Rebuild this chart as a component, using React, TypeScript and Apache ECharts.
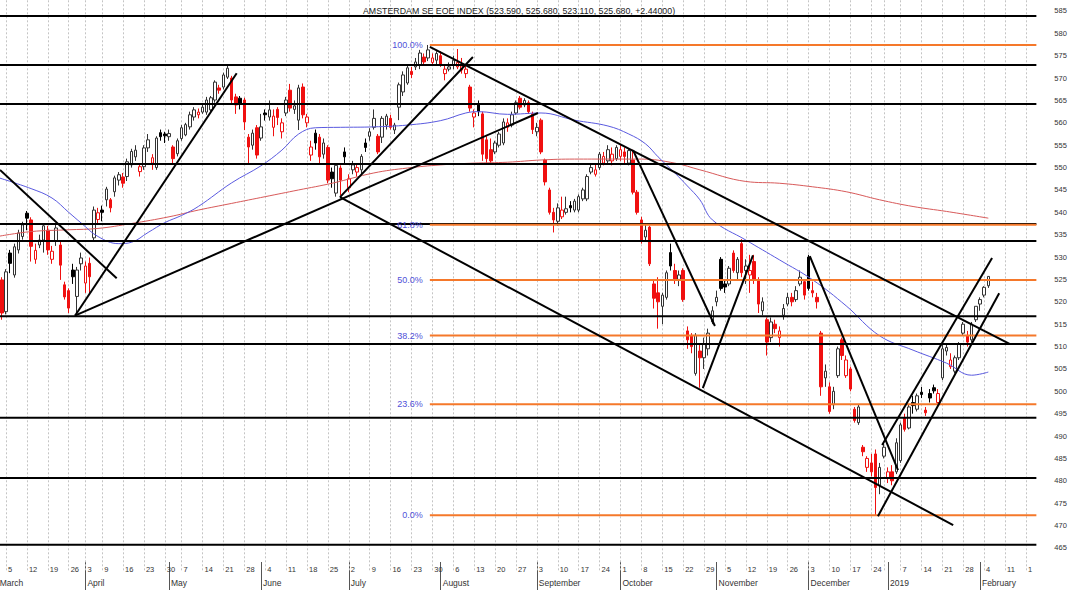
import React, { useEffect, useRef } from "react";
import * as echarts from "echarts";

const TITLE = "AMSTERDAM SE EOE INDEX (523.590, 525.680, 523.110, 525.680, +2.44000)";

// trading calendar (Euronext holidays excluded)
const CAL_FIRST = "2018-02-28";
const CAL_LAST = "2019-02-20";
const HOLIDAYS = ["2018-03-30", "2018-04-02", "2018-05-01", "2018-12-25", "2018-12-26", "2019-01-01"];
const DATA_FIRST = "2018-03-02";
const HIDDEN_WEEK_LABELS = ["2018-12-31"];
const MONTH_LABELS = ["", "February", "March", "April", "May", "June", "July", "August", "September", "October", "November", "December"];

const opens = [
  524.9, 517.8, 530.9, 526.0, 531.6, 534.6, 539.8, 538.3, 529.5, 532.7,
  533.8, 536.0, 529.5, 533.5, 532.7, 523.8, 522.5, 527.1, 521.2, 528.5,
  524.2, 528.6, 534.3, 538.4, 540.5, 542.8, 542.8, 544.6, 547.2, 547.9,
  548.0, 550.6, 552.4, 549.1, 550.2, 554.4, 551.0, 550.0, 557.8, 557.5,
  556.9, 554.6, 553.1, 556.5, 557.3, 559.1, 561.3, 561.8, 562.4, 562.4,
  562.9, 565.1, 567.8, 568.0, 570.2, 570.0, 565.8, 565.5, 565.1, 556.8,
  555.0, 558.9, 556.6, 562.2, 561.3, 559.0, 563.0, 558.0, 562.2, 567.3,
  563.0, 560.6, 568.0, 560.0, 552.8, 557.7, 556.8, 553.0, 554.5, 549.0,
  544.3, 549.9, 553.5, 545.5, 549.5, 549.0, 549.5, 555.5, 557.0, 559.0,
  557.0, 556.8, 559.5, 561.0, 558.4, 563.5, 566.9, 568.9, 571.5, 572.5,
  572.9, 574.7, 574.5, 573.5, 574.0, 575.0, 571.0, 572.0, 573.0, 572.5,
  571.8, 571.0, 568.0, 561.3, 564.0, 562.0, 556.2, 554.0, 553.5, 555.0,
  555.5, 559.0, 559.5, 562.2, 565.5, 564.0, 564.5, 562.0, 558.0, 560.6,
  551.7, 545.0, 540.0, 538.0, 539.0, 540.0, 541.5, 540.5, 540.5, 543.0,
  543.0, 549.0, 548.5, 550.0, 551.0, 551.5, 551.5, 552.0, 552.5, 553.5,
  551.0, 551.7, 544.5, 538.3, 534.5, 536.7, 524.0, 522.0, 519.0, 521.0,
  531.0, 527.0, 525.0, 527.0, 513.5, 512.5, 504.0, 509.0, 507.5, 509.5,
  515.5, 520.0, 529.5, 524.0, 524.0, 530.9, 526.5, 533.0, 527.0, 526.0,
  529.0, 524.9, 518.0, 516.0, 512.0, 515.0, 512.0, 517.0, 519.5, 521.0,
  520.5, 524.0, 524.5, 530.0, 522.5, 521.0, 513.0, 503.0, 501.0, 497.0,
  503.5, 511.5, 503.5, 505.0, 496.0, 493.0, 487.5, 483.0, 484.0, 486.0,
  479.0, 485.5, 480.5, 482.0, 482.0, 484.5, 494.0, 491.8, 497.5, 496.0,
  499.8, 495.8, 499.5, 500.8, 497.5, 503.0, 509.0, 505.5, 504.5, 507.5,
  513.0, 512.5, 511.5, 516.0, 519.5, 521.5, 523.59,
];
const highs = [
  525.5, 527.3, 531.6, 533.0, 536.1, 537.9, 540.3, 538.9, 533.0, 535.0,
  537.5, 537.0, 532.5, 537.5, 533.5, 524.5, 523.0, 528.5, 527.8, 531.0,
  529.0, 529.9, 541.3, 541.0, 541.5, 545.7, 543.2, 548.2, 549.0, 548.8,
  552.0, 554.2, 555.0, 551.0, 555.0, 557.5, 553.0, 557.0, 558.5, 558.0,
  558.5, 555.0, 556.5, 559.5, 560.0, 562.5, 563.5, 563.2, 564.2, 565.8,
  566.0, 569.5, 568.5, 571.2, 572.8, 570.5, 566.5, 566.0, 565.6, 557.5,
  558.5, 559.5, 562.0, 563.0, 565.0, 563.0, 563.5, 561.0, 565.8, 568.7,
  565.0, 568.5, 568.8, 562.0, 556.0, 558.5, 557.5, 556.5, 555.0, 550.0,
  551.0, 550.5, 554.5, 548.5, 551.5, 551.0, 553.0, 556.5, 558.8, 563.0,
  557.5, 561.5, 562.0, 561.8, 560.0, 569.0, 571.5, 573.0, 572.5, 574.5,
  576.3, 575.5, 577.4, 575.5, 576.0, 576.0, 573.0, 573.5, 575.0, 576.5,
  574.5, 573.0, 568.5, 563.0, 565.0, 562.5, 557.0, 556.5, 556.0, 558.0,
  561.0, 561.0, 562.5, 565.0, 566.0, 565.5, 565.0, 562.5, 560.0, 561.0,
  552.0, 545.5, 541.0, 542.0, 543.5, 543.5, 542.5, 543.0, 544.0, 545.5,
  548.5, 551.0, 551.0, 553.5, 553.5, 555.0, 554.5, 555.0, 555.0, 554.5,
  554.2, 554.0, 545.0, 539.0, 537.5, 537.0, 525.0, 525.5, 522.0, 527.0,
  533.0, 528.5, 527.0, 527.5, 514.5, 513.0, 513.0, 510.5, 512.0, 514.0,
  519.0, 522.5, 530.0, 525.0, 528.0, 531.5, 530.0, 534.0, 529.5, 530.5,
  530.5, 525.5, 521.0, 516.5, 516.5, 516.0, 514.5, 519.5, 522.0, 522.0,
  523.5, 527.0, 525.0, 530.5, 524.5, 522.0, 513.5, 506.0, 502.0, 501.0,
  510.0, 512.0, 508.0, 505.5, 496.5, 497.0, 488.0, 485.5, 486.0, 487.0,
  484.0, 488.5, 483.0, 483.5, 489.5, 493.0, 495.0, 497.0, 499.0, 499.5,
  501.0, 496.5, 500.5, 501.5, 500.5, 510.5, 510.5, 508.5, 508.0, 511.0,
  515.5, 513.5, 515.5, 519.0, 521.0, 523.5, 525.68,
];
const lows = [
  516.0, 517.2, 526.4, 525.4, 530.8, 533.9, 536.0, 529.0, 528.5, 532.0,
  531.0, 530.5, 528.5, 532.5, 524.9, 520.5, 517.5, 524.0, 516.9, 527.0,
  522.0, 521.6, 533.8, 537.5, 538.0, 541.3, 540.0, 543.5, 546.0, 545.5,
  547.0, 550.0, 551.5, 548.0, 549.5, 553.5, 549.5, 549.5, 556.0, 555.5,
  556.0, 551.0, 552.5, 556.0, 557.0, 558.5, 560.5, 561.0, 562.0, 561.8,
  562.5, 564.5, 566.5, 567.5, 569.8, 564.0, 562.0, 563.0, 558.4, 551.0,
  554.0, 552.0, 556.0, 560.5, 560.5, 557.0, 559.5, 556.5, 561.5, 562.5,
  562.0, 558.4, 561.0, 559.0, 551.5, 554.0, 551.0, 552.0, 546.5, 545.5,
  543.5, 543.8, 551.0, 544.5, 548.5, 548.0, 548.5, 553.5, 556.0, 558.5,
  553.0, 555.5, 558.5, 558.5, 557.5, 560.6, 566.0, 568.5, 570.0, 571.8,
  572.0, 572.8, 573.8, 573.0, 573.0, 572.5, 569.5, 571.5, 572.0, 572.0,
  571.0, 570.0, 562.5, 559.0, 561.5, 551.5, 550.8, 551.0, 553.0, 554.5,
  555.0, 558.0, 559.0, 561.8, 563.0, 563.5, 562.0, 557.5, 557.0, 553.0,
  546.0, 539.5, 535.5, 537.0, 538.5, 539.5, 540.0, 540.0, 540.0, 542.5,
  542.5, 548.5, 548.0, 549.5, 550.5, 551.0, 550.5, 551.5, 551.5, 551.0,
  550.5, 544.0, 539.5, 533.0, 533.5, 528.0, 518.5, 514.0, 515.0, 520.5,
  527.0, 524.0, 523.5, 520.0, 509.5, 508.5, 503.5, 500.8, 505.0, 508.0,
  515.0, 519.0, 522.5, 522.0, 523.5, 526.5, 525.0, 525.5, 524.0, 522.0,
  524.0, 517.5, 517.0, 508.0, 511.0, 513.0, 510.0, 516.0, 519.0, 519.0,
  520.0, 523.5, 520.5, 522.5, 521.0, 518.5, 499.0, 501.0, 495.0, 496.0,
  503.0, 507.0, 503.0, 500.0, 493.0, 492.5, 485.5, 482.0, 481.0, 472.3,
  477.0, 485.0, 479.5, 479.0, 481.5, 484.0, 491.0, 491.5, 495.0, 495.5,
  498.5, 494.5, 497.5, 499.5, 497.0, 502.5, 508.0, 505.0, 504.0, 507.0,
  512.5, 510.0, 511.0, 515.5, 518.0, 521.0, 523.11,
];
const closes = [
  517.5, 526.7, 528.6, 532.3, 535.4, 537.2, 538.7, 532.4, 531.5, 533.8,
  537.0, 531.6, 531.3, 536.5, 528.2, 521.1, 518.6, 525.6, 527.1, 529.8,
  528.0, 525.6, 540.5, 539.9, 540.0, 545.2, 541.0, 547.7, 548.4, 546.5,
  551.3, 553.6, 553.9, 550.2, 554.4, 556.2, 552.2, 556.6, 556.9, 557.1,
  557.6, 552.0, 556.0, 558.9, 559.6, 561.8, 562.9, 562.4, 563.5, 565.1,
  565.6, 569.1, 567.3, 570.7, 572.2, 565.1, 564.0, 564.4, 560.2, 554.6,
  557.7, 552.8, 559.1, 561.8, 562.9, 561.5, 561.2, 560.0, 565.1, 563.3,
  563.8, 567.8, 561.8, 561.3, 554.6, 555.5, 552.4, 555.5, 547.2, 547.5,
  550.5, 547.2, 552.4, 547.5, 550.6, 550.0, 552.5, 554.5, 558.0, 561.0,
  553.5, 561.0, 561.5, 559.0, 559.5, 568.5, 570.7, 572.3, 570.8, 573.6,
  575.6, 573.6, 576.3, 574.5, 575.5, 573.0, 572.0, 572.5, 574.0, 573.5,
  572.7, 572.0, 563.3, 562.2, 562.5, 553.0, 552.0, 551.5, 555.5, 557.5,
  560.2, 560.0, 561.8, 564.5, 563.5, 565.0, 562.5, 558.5, 559.0, 553.5,
  546.8, 540.0, 538.3, 541.0, 540.5, 540.8, 541.0, 542.5, 543.5, 545.0,
  548.0, 550.0, 549.5, 553.0, 552.5, 554.0, 553.0, 554.5, 554.0, 552.5,
  553.8, 544.5, 540.0, 533.8, 536.0, 528.5, 520.8, 520.0, 521.5, 526.5,
  528.0, 524.9, 526.0, 520.5, 511.5, 510.0, 512.5, 507.5, 510.5, 513.0,
  518.0, 521.0, 523.0, 523.3, 527.5, 527.0, 529.5, 526.5, 528.0, 527.0,
  524.9, 519.5, 520.0, 511.0, 515.5, 514.0, 513.5, 518.5, 521.0, 520.0,
  522.5, 525.5, 521.5, 523.0, 522.0, 520.0, 501.0, 504.5, 495.5, 500.0,
  509.5, 508.0, 507.0, 500.5, 493.5, 496.5, 486.5, 485.0, 482.0, 478.5,
  483.0, 487.5, 482.0, 480.0, 488.5, 492.5, 491.5, 496.5, 496.8, 499.0,
  499.3, 495.2, 498.5, 500.1, 499.5, 509.5, 509.8, 507.0, 507.5, 510.5,
  515.0, 511.0, 515.0, 519.0, 520.5, 523.24, 525.68,
];

// horizontal support / resistance levels
const SUPPORT_LEVELS = [583.9, 572.9, 564.2, 550.8, 537.4, 533.6, 516.8, 510.6, 494.1, 480.6, 465.7];

// Fibonacci retracement (between the 2018 high and the December low)
const FIB_LOW = 472.3;
const FIB_HIGH = 577.4;
const FIB_START = 104.4; // category position of the high
const FIB_RATIOS = [0, 0.236, 0.382, 0.5, 0.618, 1];
const FIB_LABELS = ["0.0%", "23.6%", "38.2%", "50.0%", "61.8%", "100.0%"];

// trend lines: [x1, y1, x2, y2] in (category position, index value)
const TRENDLINES = [
  [1.57, 549.46, 29.48, 525.26],
  [19.5, 516.9, 58.19, 571.07],
  [19.5, 516.9, 130.27, 562.2],
  [82.9, 543.4, 114.7, 574.7],
  [82.9, 543.4, 229.6, 470.1],
  [104.4, 577.0, 243.2, 510.57],
  [153.0, 553.9, 172.6, 514.6],
  [169.7, 500.7, 181.7, 530.4],
  [195.3, 530.2, 216.4, 482.4],
  [212.6, 488.0, 238.9, 529.8],
  [211.6, 472.1, 240.6, 521.9],
];

// moving averages (category position, value)
const MA_SHORT_X = [1, 9, 14, 18, 21, 25, 30, 33, 37, 41, 45, 49, 57, 64, 69, 73, 77, 83, 91, 99, 107, 113, 116, 123, 131, 139, 147, 152, 156, 159, 163, 166, 169, 172, 180, 188, 196, 204, 212, 220, 228, 234, 238];
const MA_SHORT_Y = [547.8, 545.3, 543.2, 540.0, 537.6, 534.6, 533.0, 533.3, 535.5, 537.7, 539.3, 541.3, 546.6, 550.4, 553.9, 557.5, 558.9, 559.0, 559.1, 559.5, 560.5, 562.2, 562.5, 561.9, 562.2, 560.6, 559.3, 557.5, 555.3, 552.4, 548.8, 545.9, 542.8, 538.3, 533.8, 529.4, 524.9, 519.1, 512.4, 509.2, 506.3, 503.6, 504.3];
const MA_LONG_X = [1, 9, 18, 25, 33, 42, 49, 57, 65, 73, 81, 91, 99, 107, 115, 123, 131, 139, 147, 155, 163, 169, 180, 188, 196, 204, 212, 220, 228, 238];
const MA_LONG_Y = [534.6, 535.7, 536.1, 536.4, 537.5, 539.0, 540.5, 542.0, 543.5, 545.0, 546.5, 548.8, 549.9, 550.6, 551.0, 551.2, 551.7, 551.9, 551.9, 551.9, 551.0, 549.5, 546.9, 546.5, 545.7, 544.6, 542.8, 541.3, 540.2, 538.7];

// ---------- layout / style ----------
const W = 1073;
const H = 590;
const SLOT = 4.18;
const GRID_LEFT = -8.63;
const Y_MIN = 460;
const Y_MAX = 590;
const PX_PER_UNIT = 4.4746;
const GRID_TOP = -11.4;
const FONT = '"Liberation Sans", Arial, sans-serif';
const RED = "#f01010";
const ORANGE = "#f5782a";
const FIB_TEXT = "#5050d8";

function tradingDays(): string[] {
  const out: string[] = [];
  const d = new Date(CAL_FIRST + "T00:00:00Z");
  const end = new Date(CAL_LAST + "T00:00:00Z").getTime();
  while (d.getTime() <= end) {
    const wd = d.getUTCDay();
    const s = d.toISOString().slice(0, 10);
    if (wd !== 0 && wd !== 6 && HOLIDAYS.indexOf(s) < 0) out.push(s);
    d.setUTCDate(d.getUTCDate() + 1);
  }
  return out;
}

function mondayOf(s: string): string {
  const d = new Date(s + "T00:00:00Z");
  const wd = (d.getUTCDay() + 6) % 7;
  d.setUTCDate(d.getUTCDate() - wd);
  return d.toISOString().slice(0, 10);
}

function buildOption() {
  const cats = tradingDays();
  const N = cats.length;
  const gridWidth = N * SLOT;
  const gridRight = GRID_LEFT + gridWidth;
  const first = cats.indexOf(DATA_FIRST);

  const candleData = cats.map((_, k) => {
    const j = k - first;
    if (j < 0 || j >= closes.length) return "-";
    const o = opens[j], c = closes[j], l = lows[j], h = highs[j];
    const ref = j > 0 ? closes[j - 1] : o;
    const down = c < ref;
    const hollow = c > o;
    const base = down ? RED : "#000";
    const fill = hollow ? "#fff" : base;
    const border = down ? RED : hollow ? "#333" : "#000";
    return {
      value: [o, c, l, h],
      itemStyle: { color: fill, color0: fill, borderColor: border, borderColor0: border, borderWidth: 1 },
    };
  });

  const weekStart = cats.map((d, k) => k > 0 && mondayOf(d) !== mondayOf(cats[k - 1]));
  const monthStart = cats.map((d, k) => k > 0 && d.slice(0, 7) !== cats[k - 1].slice(0, 7));
  const weekCats = cats.filter((_, k) => weekStart[k]);

  const series: any[] = [];

  series.push({
    type: "candlestick",
    xAxisIndex: 0,
    yAxisIndex: 0,
    data: candleData,
    barWidth: 3,
    z: 2,
    markLine: {
      silent: true,
      z: 1,
      symbol: ["none", "none"],
      label: { show: false },
      lineStyle: { color: "#c4c4c4", type: [2, 2], width: 1 },
      data: weekCats.map((d) => ({ xAxis: d })),
    },
  });

  series.push({
    type: "line",
    xAxisIndex: 1,
    yAxisIndex: 0,
    data: MA_LONG_X.map((x, i) => [x, MA_LONG_Y[i]]),
    smooth: 0.4,
    symbol: "none",
    lineStyle: { color: "#d85a5a", width: 1 },
    z: 3,
    silent: true,
  });
  series.push({
    type: "line",
    xAxisIndex: 1,
    yAxisIndex: 0,
    data: MA_SHORT_X.map((x, i) => [x, MA_SHORT_Y[i]]),
    smooth: 0.4,
    symbol: "none",
    lineStyle: { color: "#5a5ae0", width: 1 },
    z: 3,
    silent: true,
  });

  SUPPORT_LEVELS.forEach((v) => {
    series.push({
      type: "line",
      xAxisIndex: 1,
      yAxisIndex: 0,
      data: [[-0.5, v], [N - 0.5, v]],
      symbol: "none",
      lineStyle: { color: "#000", width: 2 },
      z: 4,
      silent: true,
    });
  });

  FIB_RATIOS.forEach((r, idx) => {
    const lvl = FIB_LOW + (FIB_HIGH - FIB_LOW) * r;
    series.push({
      type: "line",
      xAxisIndex: 1,
      yAxisIndex: 0,
      data: [
        {
          value: [FIB_START, lvl],
          label: {
            show: true,
            position: "left",
            distance: 7,
            formatter: FIB_LABELS[idx],
            color: FIB_TEXT,
            fontSize: 9,
            fontFamily: FONT,
          },
        },
        { value: [N - 0.5, lvl] },
      ],
      symbol: "circle",
      symbolSize: 0,
      showSymbol: true,
      lineStyle: { color: ORANGE, width: 2 },
      itemStyle: { color: ORANGE },
      z: 5,
      silent: true,
    });
  });

  TRENDLINES.forEach((t) => {
    series.push({
      type: "line",
      xAxisIndex: 1,
      yAxisIndex: 0,
      data: [[t[0], t[1]], [t[2], t[3]]],
      symbol: "none",
      lineStyle: { color: "#000", width: 2 },
      z: 6,
      silent: true,
    });
  });

  const weekLabel = (value: string, index: number) => {
    if (HIDDEN_WEEK_LABELS.indexOf(value) >= 0) return "";
    const txt = String(Number(value.slice(8, 10)));
    const x = GRID_LEFT + (index + 0.5) * SLOT;
    return x + 11 > gridRight ? txt.slice(0, 1) : txt;
  };
  const monthLabel = (value: string) => {
    const m = Number(value.slice(5, 7));
    return m === 1 ? value.slice(0, 4) : MONTH_LABELS[m - 1];
  };

  return {
    animation: false,
    backgroundColor: "#fff",
    title: {
      text: TITLE,
      left: 363,
      top: 6,
      padding: 0,
      textStyle: { fontSize: 8.8, fontWeight: "normal", color: "#222", fontFamily: FONT },
    },
    grid: [
      {
        left: GRID_LEFT,
        top: GRID_TOP,
        width: gridWidth,
        height: (Y_MAX - Y_MIN) * PX_PER_UNIT,
        containLabel: false,
        outerBoundsMode: "none",
      },
      { left: GRID_LEFT, top: 562, width: gridWidth, height: 28, containLabel: false, outerBoundsMode: "none" },
    ],
    xAxis: [
      { type: "category", gridIndex: 0, data: cats, show: false, boundaryGap: true, position: "bottom" },
      { type: "value", gridIndex: 0, min: -0.5, max: N - 0.5, show: false, position: "top" },
      {
        type: "category",
        gridIndex: 1,
        data: cats,
        position: "top",
        axisLine: { show: false },
        splitLine: { show: false },
        axisTick: {
          show: true,
          inside: true,
          length: 13,
          alignWithLabel: true,
          interval: (i: number) => weekStart[i],
          lineStyle: { color: "#555", width: 1 },
        },
        axisLabel: {
          show: true,
          inside: true,
          interval: (i: number) => weekStart[i],
          formatter: weekLabel,
          align: "left",
          verticalAlign: "top",
          margin: 3,
          padding: [0, 0, 0, 2],
          fontSize: 7.5,
          color: "#333",
          fontFamily: FONT,
        },
      },
      {
        type: "category",
        gridIndex: 1,
        data: cats,
        position: "top",
        axisLine: { show: false },
        splitLine: { show: false },
        axisTick: {
          show: true,
          inside: true,
          length: 28,
          alignWithLabel: true,
          interval: (i: number) => monthStart[i],
          lineStyle: { color: "#555", width: 1 },
        },
        axisLabel: {
          show: true,
          inside: true,
          interval: (i: number) => monthStart[i],
          formatter: monthLabel,
          align: "left",
          verticalAlign: "top",
          margin: 16,
          padding: [0, 0, 0, 2],
          fontSize: 8.5,
          color: "#333",
          fontFamily: FONT,
        },
      },
    ],
    yAxis: [
      {
        type: "value",
        gridIndex: 0,
        position: "right",
        min: Y_MIN,
        max: Y_MAX,
        interval: 5,
        axisLine: { show: true, lineStyle: { color: "#555", width: 1 } },
        axisTick: { show: true, length: 6, lineStyle: { color: "#555" } },
        minorTick: { show: true, splitNumber: 5, length: 3, lineStyle: { color: "#777" } },
        splitLine: { show: false },
        minorSplitLine: { show: false },
        axisLabel: {
          margin: 18,
          fontSize: 7.5,
          color: "#333",
          fontFamily: FONT,
          formatter: (v: number) => (v <= Y_MIN || v >= Y_MAX ? "" : String(v)),
        },
      },
      { type: "value", gridIndex: 1, show: false },
    ],
    series,
  };
}

export default function App() {
  const ref = useRef<HTMLDivElement>(null);
  useEffect(() => {
    document.body.style.margin = "0";
    const chart = echarts.init(ref.current as HTMLDivElement, undefined, { renderer: "svg", width: W, height: H });
    chart.setOption(buildOption() as any);
    return () => chart.dispose();
  }, []);
  return (
    <div
      ref={ref}
      style={{ position: "absolute", left: 0, top: 0, width: W, height: H, background: "#fff", overflow: "hidden" }}
    />
  );
}
